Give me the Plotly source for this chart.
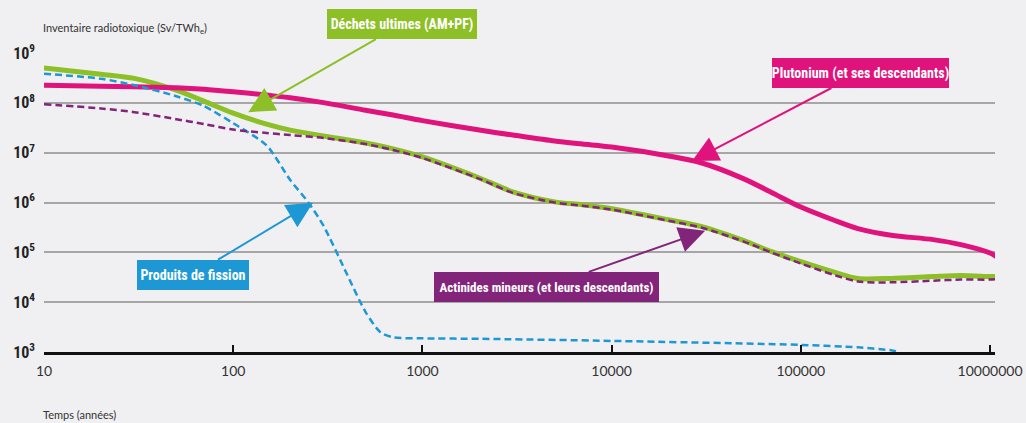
import numpy as np
import plotly.graph_objects as go

# ---- data (time in years, inventory in Sv/TWhe) ----
t_years = [10, 20, 30, 50, 70, 100, 150, 200, 300, 500, 700, 1000, 2000, 3000, 5000,
           7000, 10000, 20000, 30000, 50000, 70000, 100000, 150000, 200000, 300000,
           500000, 700000, 1000000, 1080000]

dechets_ultimes = [5.0e8, 3.75e8, 3.1e8, 1.8e8, 1.08e8, 6.2e7, 3.75e7, 2.84e7, 2.16e7,
                   1.56e7, 1.19e7, 8.2e6, 3.1e6, 1.64e6, 1.03e6, 9.0e5, 7.5e5, 4.5e5,
                   3.27e5, 1.71e5, 1.03e5, 6.5e4, 4.0e4, 2.98e4, 3.0e4, 3.27e4, 3.42e4,
                   3.27e4, 3.27e4]

plutonium = [2.26e8, 2.16e8, 2.1e8, 2.01e8, 1.88e8, 1.67e8, 1.43e8, 1.27e8, 1.01e8,
             7.1e7, 5.7e7, 4.4e7, 2.84e7, 2.26e7, 1.71e7, 1.49e7, 1.30e7, 8.6e6, 6.2e6,
             2.98e6, 1.59e6, 8.1e5, 4.4e5, 3.0e5, 2.2e5, 1.8e5, 1.43e5, 9.7e4, 8.2e4]

actinides_mineurs = [9.4e7, 7.7e7, 6.5e7, 4.7e7, 3.75e7, 2.91e7, 2.48e7, 2.26e7, 1.97e7,
                     1.49e7, 1.13e7, 7.8e6, 2.98e6, 1.56e6, 1.0e6, 8.6e5, 7.2e5, 4.3e5,
                     3.12e5, 1.64e5, 9.9e4, 5.97e4, 3.5e4, 2.6e4, 2.5e4, 2.7e4, 2.84e4,
                     2.84e4, 2.9e4]

t_fission = [10, 20, 30, 50, 70, 100, 150, 200, 250, 300, 400, 500, 600, 700, 1000,
             2000, 10000, 100000, 200000, 300000, 334000]
produits_fission = [3.84e8, 3.05e8, 2.26e8, 1.36e8, 8.6e7, 3.9e7, 1.4e7, 2.84e6, 9.9e5,
                    3.42e5, 3.58e4, 6.4e3, 2.48e3, 1.97e3, 1.88e3, 1.84e3, 1.67e3, 1.39e3,
                    1.24e3, 1.08e3, 9.9e2]

x_tick_vals = [10, 100, 1000, 10000, 100000, 1000000]
x_tick_text = ["10", "100", "1000", "10000", "100000", "10000000"]
y_tick_vals = [1e3, 1e4, 1e5, 1e6, 1e7, 1e8, 1e9]
y_tick_text = ["10<sup>3</sup>", "10<sup>4</sup>", "10<sup>5</sup>", "10<sup>6</sup>",
               "10<sup>7</sup>", "10<sup>8</sup>", "10<sup>9</sup>"]

GREEN = "#8dbf26"
PINK = "#e0127b"
BLUE = "#1e98d5"
PURPLE = "#82257a"
BG = "#f0f0f2"
COND = "Liberation Sans Narrow, Roboto Condensed, Arial Narrow, sans-serif"

fig = go.Figure()
fig.add_trace(go.Scatter(x=t_years, y=dechets_ultimes, mode="lines",
                         line=dict(color=GREEN, width=5, shape="spline", smoothing=0.8)))
fig.add_trace(go.Scatter(x=t_years, y=plutonium, mode="lines",
                         line=dict(color=PINK, width=5, shape="spline", smoothing=0.8)))
fig.add_trace(go.Scatter(x=t_fission, y=produits_fission, mode="lines",
                         line=dict(color=BLUE, width=2.5, dash="7px,4px",
                                   shape="spline", smoothing=0.7)))
fig.add_trace(go.Scatter(x=t_years, y=actinides_mineurs, mode="lines",
                         line=dict(color=PURPLE, width=2.5, dash="7px,4px",
                                   shape="spline", smoothing=0.8)))

def box(text, tip_t, tip_v, ax, ay, color, w, h, size=14):
    return dict(x=np.log10(tip_t), y=np.log10(tip_v), xref="x", yref="y",
                text=text, showarrow=True, ax=ax, ay=ay,
                arrowhead=2, arrowsize=2.6, arrowwidth=2, arrowcolor=color,
                bgcolor=color, borderpad=0, borderwidth=0, width=w, height=h,
                font=dict(family=COND, size=size, color="white", weight="bold"),
                align="center", valign="middle", standoff=0)

annotations = [
    box("Déchets ultimes (AM+PF)", 120, 6.5e7, 154, -88, GREEN, 150, 30),
    box("Plutonium (et ses descendants)", 26600, 6.8e6, 168, -88, PINK, 177, 30),
    box("Produits de fission", 264, 9.9e5, -120, 72, BLUE, 112, 30),
    box("Actinides mineurs (et leurs descendants)", 31200, 2.7e5, -159, 56, PURPLE, 225, 30, 13),
    dict(text="Inventaire radiotoxique (Sv/TWh<sub>e</sub>)", xref="paper", yref="paper",
         x=0, y=1, xanchor="left", yanchor="middle", xshift=-3, yshift=24, showarrow=False,
         font=dict(family="Lato, sans-serif", size=11, color="#333")),
    dict(text="Temps (années)", xref="paper", yref="paper",
         x=0, y=0, xanchor="left", yanchor="middle", xshift=-3, yshift=-62, showarrow=False,
         font=dict(family="Lato, sans-serif", size=11, color="#333")),
]

fig.update_layout(
    width=1026, height=423,
    margin=dict(l=44, r=31, t=52, b=71),
    paper_bgcolor=BG, plot_bgcolor=BG,
    showlegend=False,
    annotations=annotations,
    xaxis=dict(type="log", range=[1, 6.026], tickvals=x_tick_vals, ticktext=x_tick_text,
               showgrid=False, zeroline=False, showline=True, linecolor="#111",
               linewidth=3, ticks="inside", ticklen=7, tickwidth=1.5, tickcolor="#111",
               tickfont=dict(family="Lato, sans-serif", size=14, color="#333"),
               ticklabelstandoff=4, automargin=False),
    yaxis=dict(type="log", range=[3, 9.02], tickvals=y_tick_vals, ticktext=y_tick_text,
               showgrid=True, gridcolor="#a6a6a6", gridwidth=1.5, zeroline=False,
               showline=False, ticks="",
               tickfont=dict(family=COND, size=16, color="#222", weight="bold"),
               ticklabelstandoff=8, automargin=False),
)

fig.write_html(
    "out.html",
    config={"displayModeBar": False},
    post_script="document.body.style.margin='0';document.body.style.overflow='hidden';"
                "document.body.style.background='#f0f0f2';",
)
